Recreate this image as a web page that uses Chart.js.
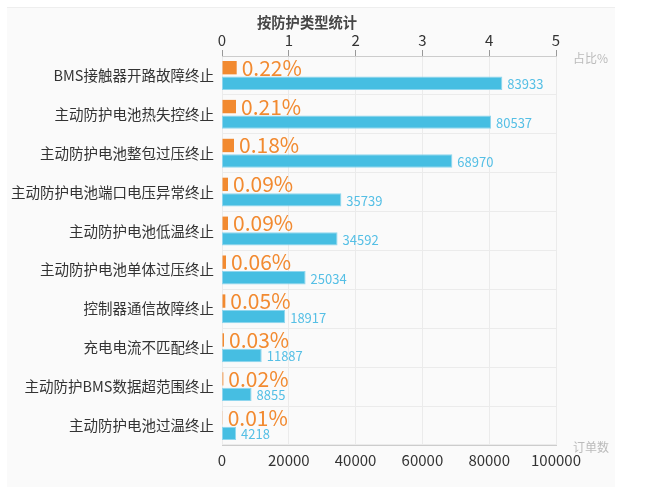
<!DOCTYPE html>
<html>
<head>
<meta charset="utf-8">
<script src="https://cdn.jsdelivr.net/npm/chart.js@4"></script>
<style>
  html, body { margin: 0; padding: 0; background: #ffffff; }
  #panel {
    position: absolute; left: 7px; top: 7px; width: 608px; height: 479px;
    background: #fafafa; border-top: 1px solid #eeeeee;
  }
  #wrap { position: absolute; left: 0; top: 0; width: 655px; height: 492px; }
</style>
</head>
<body>
<div id="panel"></div>
<div id="wrap"><canvas id="chart"></canvas></div>
<script>
const categories = [
  "BMS接触器开路故障终止",
  "主动防护电池热失控终止",
  "主动防护电池整包过压终止",
  "主动防护电池端口电压异常终止",
  "主动防护电池低温终止",
  "主动防护电池单体过压终止",
  "控制器通信故障终止",
  "充电电流不匹配终止",
  "主动防护BMS数据超范围终止",
  "主动防护电池过温终止"
];
const ratioValues = [0.22, 0.21, 0.18, 0.09, 0.09, 0.06, 0.05, 0.03, 0.02, 0.01];
const orderValues = [83933, 80537, 68970, 35739, 34592, 25034, 18917, 11887, 8855, 4218];

const fontFamily = "'Noto Sans CJK SC', 'Noto Sans', sans-serif";
const orange = "#f28a30";
const blue = "#46bee2";

const labelPlugin = {
  id: "valueLabels",
  afterDatasetsDraw(chart) {
    const ctx = chart.ctx;
    ctx.save();
    ctx.textBaseline = "middle";
    ctx.textAlign = "left";

    chart.getDatasetMeta(0).data.forEach(function (bar, i) {
      ctx.fillStyle = orange;
      ctx.font = "21px " + fontFamily;
      ctx.fillText(ratioValues[i].toFixed(2) + "%", bar.x + 5, bar.y);
    });

    chart.getDatasetMeta(1).data.forEach(function (bar, i) {
      ctx.fillStyle = "#55bfe5";
      ctx.font = "13px " + fontFamily;
      ctx.fillText(String(orderValues[i]), bar.x + 5, bar.y + 1);
    });

    // title and axis names
    ctx.fillStyle = "#464646";
    ctx.font = "bold 14.3px " + fontFamily;
    ctx.fillText("按防护类型统计", 257, 23);

    ctx.fillStyle = "#bbbbbb";
    ctx.font = "12px " + fontFamily;
    ctx.fillText("占比%", 573, 58);
    ctx.fillText("订单数", 573, 447);
    ctx.restore();
  }
};

const ctx = document.getElementById("chart").getContext("2d");

new Chart(ctx, {
  type: "bar",
  data: {
    labels: categories,
    datasets: [
      {
        label: "占比%",
        data: ratioValues,
        xAxisID: "xTop",
        backgroundColor: orange,
        categoryPercentage: 0.8,
        barPercentage: 0.86
      },
      {
        label: "订单数",
        data: orderValues,
        xAxisID: "xBottom",
        backgroundColor: blue,
        borderColor: "#8fd6ee",
        borderWidth: 1,
        borderSkipped: false,
        categoryPercentage: 0.8,
        barPercentage: 0.86
      }
    ]
  },
  options: {
    indexAxis: "y",
    responsive: true,
    maintainAspectRatio: false,
    animation: false,
    layout: { padding: { left: 0, right: 99, top: 0, bottom: 0 } },
    plugins: {
      legend: { display: false },
      tooltip: { enabled: false }
    },
    scales: {
      y: {
        type: "category",
        offset: true,
        afterFit: function (scale) { scale.width = 222; },
        grid: { color: "#ebebeb", offset: true, drawTicks: false },
        border: { display: false },
        ticks: {
          color: "#333333",
          padding: 8,
          font: { family: fontFamily, size: 14.5 }
        }
      },
      xTop: {
        type: "linear",
        position: "top",
        min: 0,
        max: 5,
        afterFit: function (scale) { scale.height = 56; },
        grid: { color: "#ebebeb", tickColor: "#999999", tickLength: 6 },
        border: { display: true, color: "#cccccc" },
        ticks: {
          stepSize: 1,
          color: "#333333",
          padding: 1,
          font: { family: fontFamily, size: 15 },
          callback: function (value) { return String(value); }
        }
      },
      xBottom: {
        type: "linear",
        position: "bottom",
        min: 0,
        max: 100000,
        afterFit: function (scale) { scale.height = 47; },
        grid: { display: false, drawTicks: false },
        border: { display: true, color: "#cccccc" },
        ticks: {
          stepSize: 20000,
          color: "#333333",
          padding: 6,
          font: { family: fontFamily, size: 15 },
          callback: function (value) { return String(value); }
        }
      }
    }
  },
  plugins: [labelPlugin]
});
</script>
</body>
</html>
